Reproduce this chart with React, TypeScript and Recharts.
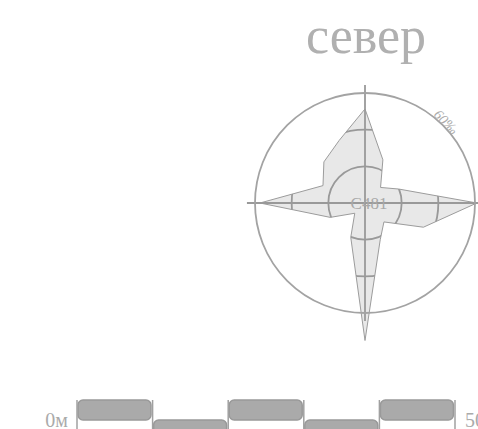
import React from 'react'
import {
  RadarChart, Radar, PolarAngleAxis, PolarRadiusAxis,
  BarChart, Bar, XAxis, YAxis, ReferenceLine,
} from 'recharts'

// wind rose, share of observations per direction (‰)
const directions = ['С', 'ССВ', 'СВ', 'ВСВ', 'В', 'ВЮВ', 'ЮВ', 'ЮЮВ', 'Ю', 'ЮЮЗ', 'ЮЗ', 'ЗЮЗ', 'З', 'ЗСЗ', 'СЗ', 'ССЗ']
const frequency = [51.3, 25.5, 12, 19.9, 61, 34.5, 14.6, 21.7, 75, 20.3, 7.9, 20.5, 57.3, 24.8, 31.7, 36.9]
const rings = [20, 40]
const ringMax = 60
const crossReach = 64.4
const stationName = 'C481'
const title = 'север'

// scale bar (metres)
const scaleStops = [0, 10, 20, 30, 40, 50]
const scaleRows = ['top', 'bottom', 'top', 'bottom', 'top']

const FONT = '"Liberation Serif", "Times New Roman", serif'
const GRID = '#a3a3a3'

const roseData = directions.map((dir, i) => ({ dir, value: frequency[i] }))
const scaleData = scaleRows.map((row, i) => ({
  mid: (scaleStops[i] + scaleStops[i + 1]) / 2,
  range: row === 'top' ? [1, 2] : [0, 1],
}))

function RoseShape(props: any) {
  const pts = props.points || []
  if (!pts.length) return null
  const { cx, cy } = pts[0]
  const ref = pts.find((p: any) => p.value > 0)
  const k = ref.radius / ref.value
  const poly = pts.map((p: any) => `${p.x},${p.y}`).join(' ')
  const reach = crossReach * k
  return (
    <g>
      <defs>
        <clipPath id="rose-clip">
          <polygon points={poly} />
        </clipPath>
      </defs>
      <polygon points={poly} fill="#b8b8b8" fillOpacity={0.32} stroke="#9c9c9c" strokeWidth={1} />
      <g clipPath="url(#rose-clip)">
        {rings.map((v) => (
          <circle key={v} cx={cx} cy={cy} r={v * k} fill="none" stroke="#999" strokeWidth={1.8} />
        ))}
      </g>
      <line x1={cx} y1={cy - reach} x2={cx} y2={cy + reach} stroke="#999" strokeWidth={1.8} />
      <line x1={cx - reach} y1={cy} x2={cx + reach} y2={cy} stroke="#999" strokeWidth={1.8} />
      <text x={cx + 4} y={cy + 6} textAnchor="middle" fontFamily={FONT} fontSize={17} fill="#a8a8a8">
        {stationName}
      </text>
      <text x={cx + 1} y={53} textAnchor="middle" fontFamily={FONT} fontSize={52} fill="#b0b0b0">
        {title}
      </text>
    </g>
  )
}

export default function App() {
  return (
    <div style={{ position: 'fixed', left: 0, top: 0, width: 478, height: 429, overflow: 'hidden', background: '#fff' }}>
      <div style={{ position: 'absolute', left: 0, top: 0 }}>
        <BarChart width={478} height={460} data={scaleData} margin={{ top: 400, right: 23, bottom: 20, left: 77 }}>
          <XAxis type="number" dataKey="mid" domain={[0, 50]} hide />
          <YAxis type="number" domain={[0, 2]} hide width={0} />
          <Bar dataKey="range" barSize={73} fill="#aaaaaa" stroke="#999" strokeWidth={1.5} radius={5} isAnimationActive={false} />
          {scaleStops.map((s, i) => (
            <ReferenceLine
              key={s}
              x={s}
              stroke="#a0a0a0"
              strokeWidth={1.5}
              label={
                i === 0
                  ? { value: `${s}м`, position: 'left', offset: 9, fill: '#aaa', fontSize: 20, fontFamily: FONT }
                  : i === scaleStops.length - 1
                  ? { value: `${s}м`, position: 'right', offset: 10, fill: '#aaa', fontSize: 20, fontFamily: FONT }
                  : undefined
              }
            />
          ))}
        </BarChart>
      </div>
      <div style={{ position: 'absolute', left: 0, top: 0 }}>
        <RadarChart width={478} height={429} data={roseData} cx={365} cy={203} outerRadius={110} margin={{ top: 0, right: 0, bottom: 0, left: 0 }}>
          <PolarAngleAxis dataKey="dir" tick={false} tickLine={false} axisLineType="circle" axisLine={{ stroke: GRID, strokeWidth: 1.8 }} />
          <PolarRadiusAxis
            domain={[0, ringMax]}
            allowDataOverflow
            tickCount={4}
            angle={45}
            orientation="middle"
            axisLine={false}
            tickFormatter={(v: number) => (v === ringMax ? `${v}‰` : '')}
            tick={{ fill: '#aaa', fontSize: 14, fontFamily: FONT, fontStyle: 'italic' }}
          />
          <Radar dataKey="value" shape={RoseShape} isAnimationActive={false} />
        </RadarChart>
      </div>
    </div>
  )
}
